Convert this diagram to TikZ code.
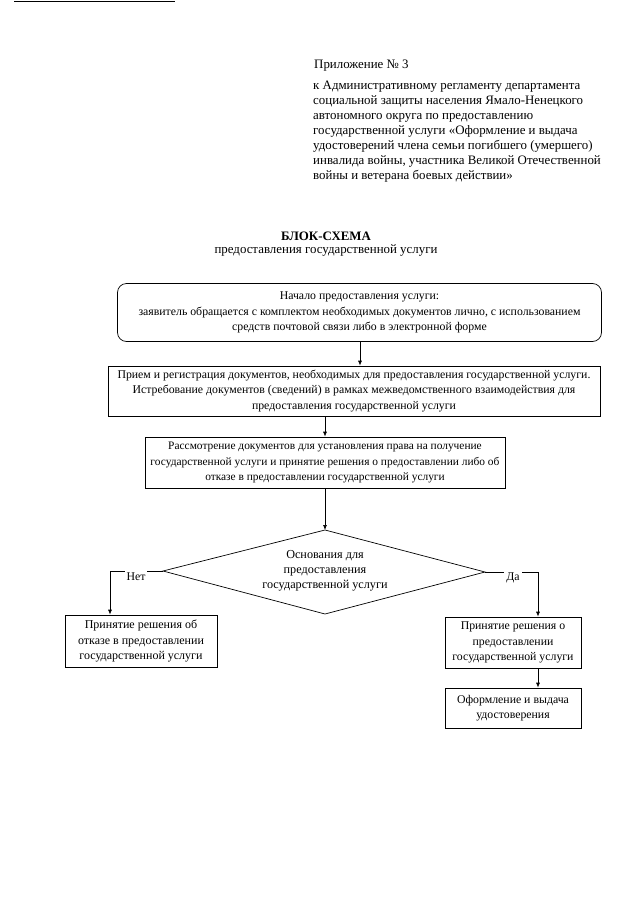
\documentclass[tikz,border=0pt]{standalone}
\usepackage{fontspec}
\setmainfont{Liberation Serif}
\usetikzlibrary{arrows.meta}
\begin{document}
\begin{tikzpicture}[x=1pt,y=-1pt,
  every node/.style={inner sep=1pt},
  boxtext/.style={font=\fontsize{11.8}{15.3}\selectfont, align=center},
  pbox/.style={draw, line width=0.7pt, boxtext, minimum width=#1},
  rbox/.style={pbox=#1, rounded corners=9pt},
  arr/.style={line width=0.7pt, -{Latex[length=5pt,width=4pt]}},
  ln/.style={line width=0.7pt},
  lbl/.style={fill=white, boxtext, inner sep=2pt},
  hdr/.style={font=\fontsize{12.9}{15}\selectfont}
]
\useasboundingbox[fill=white] (0,0) rectangle (640,905);
\coordinate (t1) at (14,1.5);
\coordinate (t2) at (175,1.5);
\draw[line width=1.5pt] (t1) -- (t2);

\node[anchor=west, hdr] (app) at (313,66) {Приложение № 3};
\node[anchor=north west, align=left, hdr] (par) at (312,80)
{к Административному регламенту департамента\\
социальной защиты населения Ямало-Ненецкого\\
автономного округа по предоставлению\\
государственной услуги «Оформление и выдача\\
удостоверений члена семьи погибшего (умершего)\\
инвалида войны, участника Великой Отечественной\\
войны и ветерана боевых действии»};

\node[hdr, font=\fontsize{12.9}{15}\selectfont\bfseries] (title) at (326,236) {БЛОК-СХЕМА};
\node[hdr] (sub) at (326,250) {предоставления государственной услуги};

\node[rbox=484pt, minimum height=58pt] (b1) at (359.5,312.5)
{Начало предоставления услуги:\\
заявитель обращается с комплектом необходимых документов лично, с использованием\\
средств почтовой связи либо в электронной форме};

\node[pbox=492pt, minimum height=50pt] (b2) at (354,391)
{Прием и регистрация документов, необходимых для предоставления государственной услуги.\\
Истребование документов (сведений) в рамках межведомственного взаимодействия для\\
предоставления государственной услуги};

\node[pbox=360pt, minimum height=51pt, font=\fontsize{11.4}{15.3}\selectfont] (b3) at (325,462.5)
{Рассмотрение документов для установления права на получение\\
государственной услуги и принятие решения о предоставлении либо об\\
отказе в предоставлении государственной услуги};

\coordinate (dT) at (325,530);
\coordinate (dB) at (325,614);
\coordinate (dL) at (163,571);
\coordinate (dR) at (485,572);
\draw[ln] (dT) -- (dR) -- (dB) -- (dL) -- cycle;
\node[boxtext, font=\fontsize{12.2}{14.8}\selectfont] (d) at (325,571)
{Основания для\\ предоставления\\ государственной услуги};

\node[pbox=152pt, minimum height=52pt, font=\fontsize{12}{15.5}\selectfont] (L) at (141,641)
{Принятие решения об\\ отказе в предоставлении\\ государственной услуги};
\node[pbox=136pt, minimum height=51pt, font=\fontsize{11.8}{15.5}\selectfont] (R1) at (513,642.5)
{Принятие решения о\\ предоставлении\\ государственной услуги};
\node[pbox=136pt, minimum height=40pt, font=\fontsize{11.8}{15.5}\selectfont] (R2) at (513,708)
{Оформление и выдача\\ удостоверения};

\draw[arr] (b1.south -| 360,0) -- (b2.north -| 360,0);
\draw[arr] (b2.south -| b3.north) -- (b3.north);
\draw[arr] (b3.south) -- (dT);

\coordinate (nL) at (110,571);
\coordinate (nR) at (538,572);
\draw[arr] (dL) -- (nL) -- (nL |- L.north);
\draw[arr] (dR) -- (nR) -- (nR |- R1.north);
\draw[arr] (R1.south -| nR) -- (R2.north -| nR);

\node[lbl] (net) at (136,577) {Нет};
\node[lbl] (da) at (513,578) {Да};
\end{tikzpicture}
\end{document}
